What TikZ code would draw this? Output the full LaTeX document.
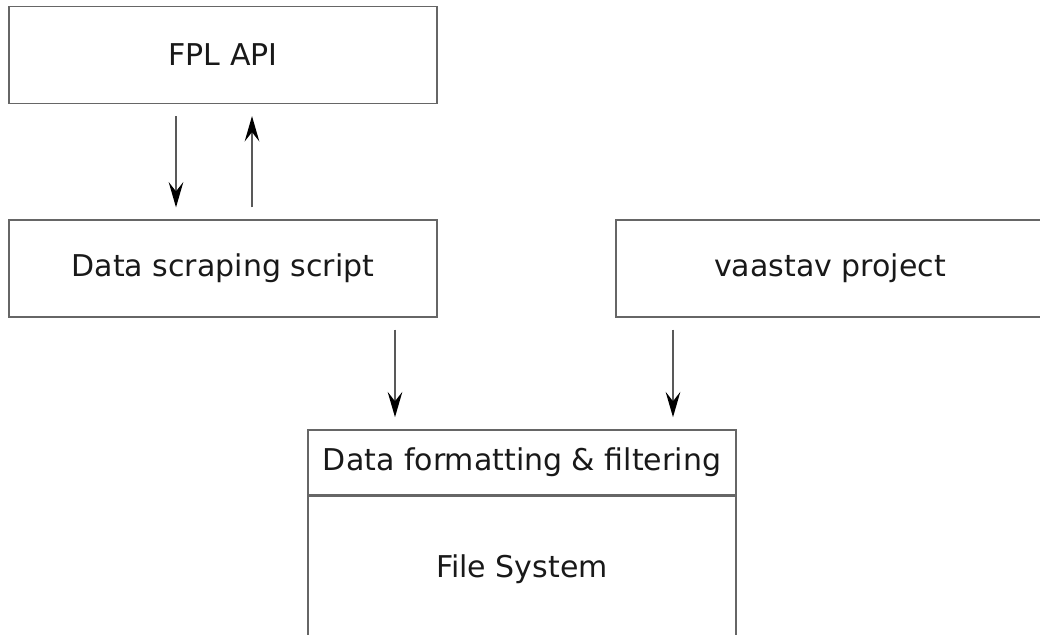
\documentclass[tikz,border=0pt]{standalone}
\usepackage{fontspec}
\setmainfont{DejaVu Sans}
\usetikzlibrary{arrows.meta,calc}
\tikzset{
  block/.style={draw=black!60, line width=1.2pt, minimum width=321pt,
    minimum height=72.5pt, inner sep=0pt, text=black!90,
    font=\fontsize{22.5}{27}\selectfont},
  flow/.style={draw=black!65, line width=1.1pt,
    -{Stealth[length=19pt,width=11pt,inset=7pt,color=black]},
    shorten <=9pt, shorten >=9pt}
}
\begin{document}
\begin{tikzpicture}[x=0.75pt,y=-0.75pt]
  \useasboundingbox (0,0) rectangle (1040,635);
  \clip (0,0) rectangle (1040,635);
  % sources
  \node[block] (fpl) at (223,55) {FPL API};
  \node[block] (scr) at (223,268.5) {Data scraping script};
  \node[block] (vst) at (830,268.5) {vaastav project};
  % storage
  \node[block, minimum height=48.75pt] (fmt) at (522,462.5) {Data formatting \& filtering};
  \node[block, minimum height=109.5pt, anchor=north] (fs) at (fmt.south) {File System};
  % requests
  \draw[flow] ($(fpl.south)+(-47,0)$) -- ($(scr.north)+(-47,0)$);
  \draw[flow] ($(scr.north)+(29,0)$) -- ($(fpl.south)+(29,0)$);
  \draw[flow] ($(scr.south)+(172,0)$) -- ($(fmt.north)+(-127,0)$);
  \draw[flow] ($(vst.south)+(-157,0)$) -- ($(fmt.north)+(151,0)$);
\end{tikzpicture}
\end{document}
